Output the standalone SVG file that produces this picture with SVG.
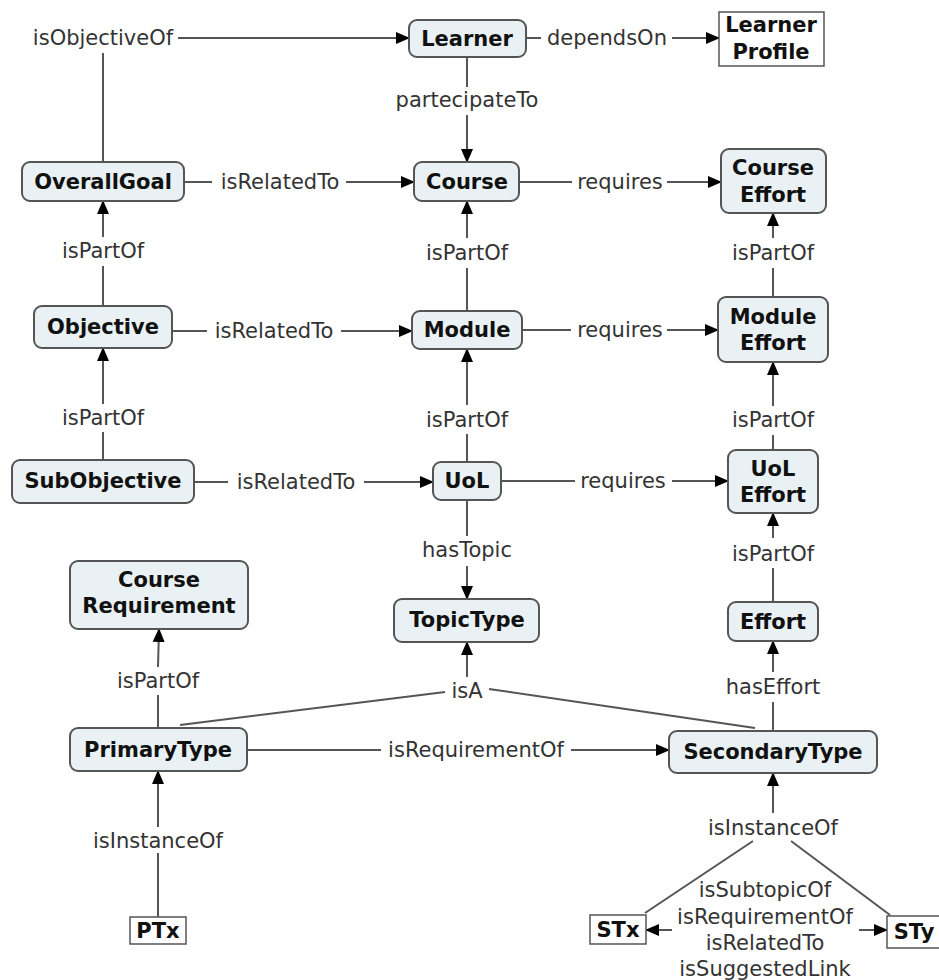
<svg xmlns="http://www.w3.org/2000/svg" width="939" height="980" viewBox="0 0 939 980">
  <defs>
    <marker id="arrow" markerUnits="userSpaceOnUse" markerWidth="14" markerHeight="14" viewBox="0 0 14 14" refX="13" refY="7" orient="auto">
      <path d="M0,1 L14,7 L0,13 Z" fill="#000"/>
    </marker>
    <style>
      .node rect { fill: #e9f1f4; stroke: #555; stroke-width: 2; }
      .node rect.plain { fill: #fff; stroke: #555; stroke-width: 1.5; }
      .node text { font-family: "DejaVu Sans", Verdana, sans-serif; font-weight: bold; font-size: 21px; fill: #111; text-anchor: middle; }
      .links line, .links polyline { stroke: #555; stroke-width: 2; fill: none; }
      .links .arr { marker-end: url(#arrow); }
      .links text { font-family: "DejaVu Sans", Verdana, sans-serif; font-size: 21px; fill: #333; text-anchor: middle; }
    </style>
  </defs>
  <rect width="939" height="980" fill="#fff"/>

  <!-- connectors -->
  <g id="connectors" class="links">
    <!-- OverallGoal isObjectiveOf Learner -->
    <line x1="103" y1="162" x2="103" y2="53"/>
    <text x="103" y="45">isObjectiveOf</text>
    <line class="arr" x1="178" y1="38" x2="409" y2="38"/>
    <!-- Learner dependsOn Learner Profile -->
    <line x1="526" y1="38" x2="541" y2="38"/>
    <text x="607" y="45">dependsOn</text>
    <line class="arr" x1="672" y1="38" x2="719" y2="38"/>
    <!-- Learner partecipateTo Course -->
    <line x1="467" y1="57" x2="467" y2="87"/>
    <text x="467" y="107">partecipateTo</text>
    <line class="arr" x1="467" y1="115" x2="467" y2="162"/>
    <!-- OverallGoal isRelatedTo Course -->
    <line x1="184" y1="182" x2="212" y2="182"/>
    <text x="280" y="189">isRelatedTo</text>
    <line class="arr" x1="346" y1="182" x2="414" y2="182"/>
    <!-- Course requires Course Effort -->
    <line x1="519" y1="182" x2="572" y2="182"/>
    <text x="620" y="189">requires</text>
    <line class="arr" x1="667" y1="182" x2="721" y2="182"/>
    <!-- Objective isPartOf OverallGoal -->
    <line x1="103" y1="306" x2="103" y2="266"/>
    <text x="103" y="258">isPartOf</text>
    <line class="arr" x1="103" y1="237" x2="103" y2="201"/>
    <!-- Module isPartOf Course -->
    <line x1="467" y1="311" x2="467" y2="268"/>
    <text x="467" y="260">isPartOf</text>
    <line class="arr" x1="467" y1="238" x2="467" y2="201"/>
    <!-- Module Effort isPartOf Course Effort -->
    <line x1="773" y1="297" x2="773" y2="268"/>
    <text x="773" y="260">isPartOf</text>
    <line class="arr" x1="773" y1="238" x2="773" y2="213"/>
    <!-- Objective isRelatedTo Module -->
    <line x1="172" y1="331" x2="207" y2="331"/>
    <text x="274" y="338">isRelatedTo</text>
    <line class="arr" x1="341" y1="331" x2="412" y2="331"/>
    <!-- Module requires Module Effort -->
    <line x1="522" y1="330" x2="571" y2="330"/>
    <text x="620" y="337">requires</text>
    <line class="arr" x1="667" y1="330" x2="718" y2="330"/>
    <!-- SubObjective isPartOf Objective -->
    <line x1="103" y1="460" x2="103" y2="432"/>
    <text x="103" y="425">isPartOf</text>
    <line class="arr" x1="103" y1="404" x2="103" y2="348"/>
    <!-- UoL isPartOf Module -->
    <line x1="467" y1="462" x2="467" y2="434"/>
    <text x="467" y="427">isPartOf</text>
    <line class="arr" x1="467" y1="405" x2="467" y2="349"/>
    <!-- UoL Effort isPartOf Module Effort -->
    <line x1="773" y1="450" x2="773" y2="435"/>
    <text x="773" y="427">isPartOf</text>
    <line class="arr" x1="773" y1="406" x2="773" y2="362"/>
    <!-- SubObjective isRelatedTo UoL -->
    <line x1="194" y1="482" x2="228" y2="482"/>
    <text x="296" y="489">isRelatedTo</text>
    <line class="arr" x1="364" y1="482" x2="433" y2="482"/>
    <!-- UoL requires UoL Effort -->
    <line x1="501" y1="481" x2="575" y2="481"/>
    <text x="623" y="488">requires</text>
    <line class="arr" x1="672" y1="481" x2="728" y2="481"/>
    <!-- UoL hasTopic TopicType -->
    <line x1="467" y1="500" x2="467" y2="536"/>
    <text x="467" y="557">hasTopic</text>
    <line class="arr" x1="467" y1="566" x2="467" y2="599"/>
    <!-- Effort isPartOf UoL Effort -->
    <line x1="773" y1="602" x2="773" y2="568"/>
    <text x="773" y="561">isPartOf</text>
    <line class="arr" x1="773" y1="538" x2="773" y2="513"/>
    <!-- PrimaryType isPartOf Course Requirement -->
    <line x1="158" y1="728" x2="158" y2="695"/>
    <text x="158" y="688">isPartOf</text>
    <line class="arr" x1="158" y1="667" x2="159" y2="629"/>
    <!-- PrimaryType / SecondaryType isA TopicType -->
    <line x1="180" y1="725" x2="445" y2="692"/>
    <line x1="755" y1="728" x2="489" y2="689"/>
    <text x="467" y="698">isA</text>
    <line class="arr" x1="467" y1="677" x2="467" y2="642"/>
    <!-- PrimaryType isRequirementOf SecondaryType -->
    <line x1="247" y1="750" x2="381" y2="750"/>
    <text x="476" y="757">isRequirementOf</text>
    <line class="arr" x1="571" y1="750" x2="669" y2="750"/>
    <!-- SecondaryType hasEffort Effort -->
    <line x1="773" y1="731" x2="773" y2="702"/>
    <text x="773" y="694">hasEffort</text>
    <line class="arr" x1="773" y1="672" x2="773" y2="641"/>
    <!-- PTx isInstanceOf PrimaryType -->
    <line x1="158" y1="917" x2="158" y2="853"/>
    <text x="158" y="848">isInstanceOf</text>
    <line class="arr" x1="158" y1="827" x2="158" y2="771"/>
    <!-- STx / STy isInstanceOf SecondaryType -->
    <line x1="645" y1="913" x2="753" y2="841"/>
    <line x1="890" y1="915" x2="791" y2="841"/>
    <text x="773" y="835">isInstanceOf</text>
    <line class="arr" x1="773" y1="813" x2="773" y2="773"/>
    <!-- STx / STy mutual links -->
    <text x="765" y="897">isSubtopicOf</text>
    <text x="765" y="924">isRequirementOf</text>
    <text x="765" y="950">isRelatedTo</text>
    <text x="765" y="976">isSuggestedLink</text>
    <line class="arr" x1="672" y1="930" x2="646" y2="930"/>
    <line class="arr" x1="859" y1="930" x2="887" y2="930"/>
  </g>

  <!-- nodes -->
  <g id="learner" class="node">
    <rect x="409" y="20" width="117" height="37" rx="8"/>
    <text x="467" y="46">Learner</text>
  </g>
  <g id="learner-profile" class="node">
    <rect class="plain" x="719" y="12" width="105" height="54"/>
    <text x="771" y="32">Learner</text>
    <text x="771" y="59">Profile</text>
  </g>
  <g id="overall-goal" class="node">
    <rect x="22" y="162" width="162" height="39" rx="8"/>
    <text x="103" y="189">OverallGoal</text>
  </g>
  <g id="course" class="node">
    <rect x="414" y="162" width="105" height="39" rx="8"/>
    <text x="467" y="189">Course</text>
  </g>
  <g id="course-effort" class="node">
    <rect x="721" y="149" width="105" height="64" rx="8"/>
    <text x="773" y="175">Course</text>
    <text x="773" y="202">Effort</text>
  </g>
  <g id="objective" class="node">
    <rect x="34" y="306" width="138" height="42" rx="8"/>
    <text x="103" y="334">Objective</text>
  </g>
  <g id="module" class="node">
    <rect x="412" y="311" width="110" height="38" rx="8"/>
    <text x="467" y="337">Module</text>
  </g>
  <g id="module-effort" class="node">
    <rect x="718" y="297" width="110" height="65" rx="8"/>
    <text x="773" y="324">Module</text>
    <text x="773" y="350">Effort</text>
  </g>
  <g id="sub-objective" class="node">
    <rect x="12" y="460" width="182" height="43" rx="8"/>
    <text x="103" y="488">SubObjective</text>
  </g>
  <g id="uol" class="node">
    <rect x="433" y="462" width="68" height="38" rx="8"/>
    <text x="467" y="488">UoL</text>
  </g>
  <g id="uol-effort" class="node">
    <rect x="728" y="450" width="90" height="63" rx="8"/>
    <text x="773" y="476">UoL</text>
    <text x="773" y="502">Effort</text>
  </g>
  <g id="course-requirement" class="node">
    <rect x="70" y="561" width="178" height="68" rx="8"/>
    <text x="159" y="587">Course</text>
    <text x="159" y="613">Requirement</text>
  </g>
  <g id="topic-type" class="node">
    <rect x="394" y="599" width="145" height="43" rx="8"/>
    <text x="467" y="627">TopicType</text>
  </g>
  <g id="effort" class="node">
    <rect x="728" y="602" width="90" height="39" rx="8"/>
    <text x="773" y="629">Effort</text>
  </g>
  <g id="primary-type" class="node">
    <rect x="70" y="728" width="177" height="43" rx="8"/>
    <text x="158" y="757">PrimaryType</text>
  </g>
  <g id="secondary-type" class="node">
    <rect x="669" y="731" width="208" height="42" rx="8"/>
    <text x="773" y="759">SecondaryType</text>
  </g>
  <g id="ptx" class="node">
    <rect class="plain" x="130" y="917" width="56" height="27"/>
    <text x="158" y="938">PTx</text>
  </g>
  <g id="stx" class="node">
    <rect class="plain" x="590" y="915" width="56" height="29"/>
    <text x="618" y="937">STx</text>
  </g>
  <g id="sty" class="node">
    <rect class="plain" x="887" y="916" width="60" height="32"/>
    <text x="914" y="939">STy</text>
  </g>
</svg>
